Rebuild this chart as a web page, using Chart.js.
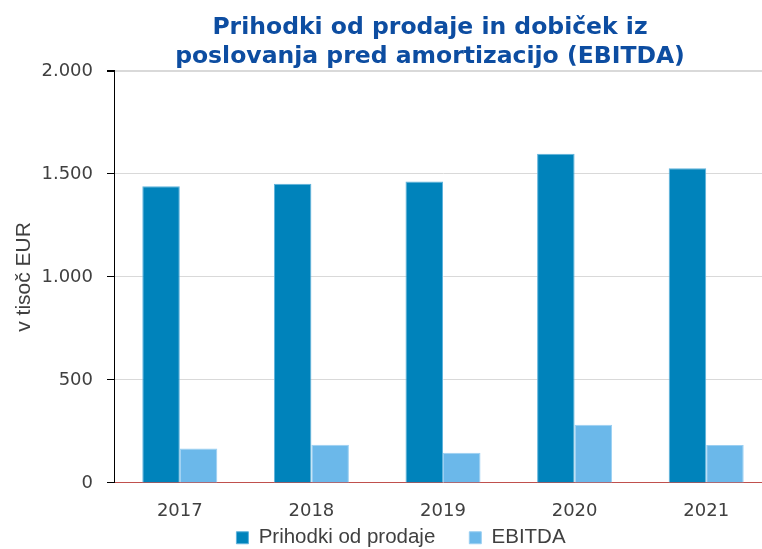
<!DOCTYPE html>
<html>
<head>
<meta charset="utf-8">
<script src="https://cdn.jsdelivr.net/npm/chart.js"></script>
<style>
	html, body { margin: 0; padding: 0; background: #fff; overflow: hidden; }
	#okvir { width: 776px; height: 605px; }
</style>
</head>
<body>
<div id="okvir"><canvas id="graf" width="776" height="605"></canvas></div>
<script>
	// podatki (v tisoč EUR)
	var leta = ["2017", "2018", "2019", "2020", "2021"];
	var prihodki = [1440, 1452, 1463, 1598, 1528];
	var ebitda = [167, 185, 146, 282, 184];
	var yTicks = [0, 500, 1000, 1500, 2000];

	var naslov = ["Prihodki od prodaje in dobiček iz", "poslovanja pred amortizacijo (EBITDA)"];

	pike = (n) => {
		var s = String(n);
		var rgx = /(\d+)(\d{3})/;
		while (rgx.test(s)) {
			s = s.replace(rgx, '$1' + '.' + '$2');
		}
		return s;
	}

	// premik naslova in legende (v izvirniku nista na sredini platna)
	var zamik = {
		id: 'zamik',
		afterLayout: (chart) => {
			chart.titleBlock.left += 44;
			chart.titleBlock.right += 44;
			chart.legend.left += 15;
			chart.legend.right += 15;
			chart.legend.top -= 47;
			chart.legend.bottom -= 47;
		}
	};

	var ctx = document.getElementById("graf").getContext('2d');

	var graf = new Chart(ctx, {
		type: 'bar',
		data: {
			labels: leta,
			datasets: [{
				label: 'Prihodki od prodaje',
				data: prihodki,
				backgroundColor: '#0083BB',
				borderColor: '#5FB3DC',
				borderWidth: 1
			}, {
				label: 'EBITDA',
				data: ebitda,
				backgroundColor: '#6BB8EA',
				borderColor: '#9ACFF2',
				borderWidth: 1
			}]
		},
		plugins: [zamik],
		options: {
			responsive: false,
			animation: false,
			devicePixelRatio: 1,
			layout: { padding: { left: 0, right: 4, top: 0, bottom: 0 } },
			datasets: {
				bar: { barPercentage: 1, categoryPercentage: 0.57 }
			},
			plugins: {
				title: {
					display: true,
					text: naslov,
					color: '#0D4DA1',
					font: { family: 'DejaVu Sans', size: 23.5, weight: 'bold', lineHeight: 1.234 },
					padding: { top: 13, bottom: 0 }
				},
				legend: {
					position: 'bottom',
					labels: {
						boxWidth: 12,
						boxHeight: 12,
						padding: 34,
						color: '#404040',
						font: { family: 'Liberation Sans', size: 20.5 }
					}
				},
				tooltip: { enabled: false }
			},
			scales: {
				x: {
					grid: { display: false, drawTicks: false },
					border: { display: true, color: '#C0504D', width: 1 },
					ticks: {
						padding: 18,
						color: '#404040',
						font: { family: 'DejaVu Sans', size: 18 }
					}
				},
				y: {
					min: 0,
					max: 2000,
					afterBuildTicks: (scale) => {
						scale.ticks = yTicks.map((v) => ({ value: v }));
					},
					afterFit: (scale) => { scale.width = 114; },
					grid: {
						color: (c) => c.tick && c.tick.value === 0 ? 'rgba(0,0,0,0)' : '#D9D9D9',
						lineWidth: (c) => c.tick && c.tick.value === 2000 ? 2 : 1,
						tickColor: '#000000',
						tickLength: 7
					},
					border: { display: true, color: '#000000', width: 1 },
					ticks: {
						padding: 14,
						color: '#404040',
						font: { family: 'DejaVu Sans', size: 18 },
						callback: (v) => pike(v)
					},
					title: {
						display: true,
						text: 'v tisoč EUR',
						color: '#404040',
						font: { family: 'Liberation Sans', size: 21 },
						padding: { top: 12, bottom: 0 }
					}
				}
			}
		}
	});
</script>
</body>
</html>
